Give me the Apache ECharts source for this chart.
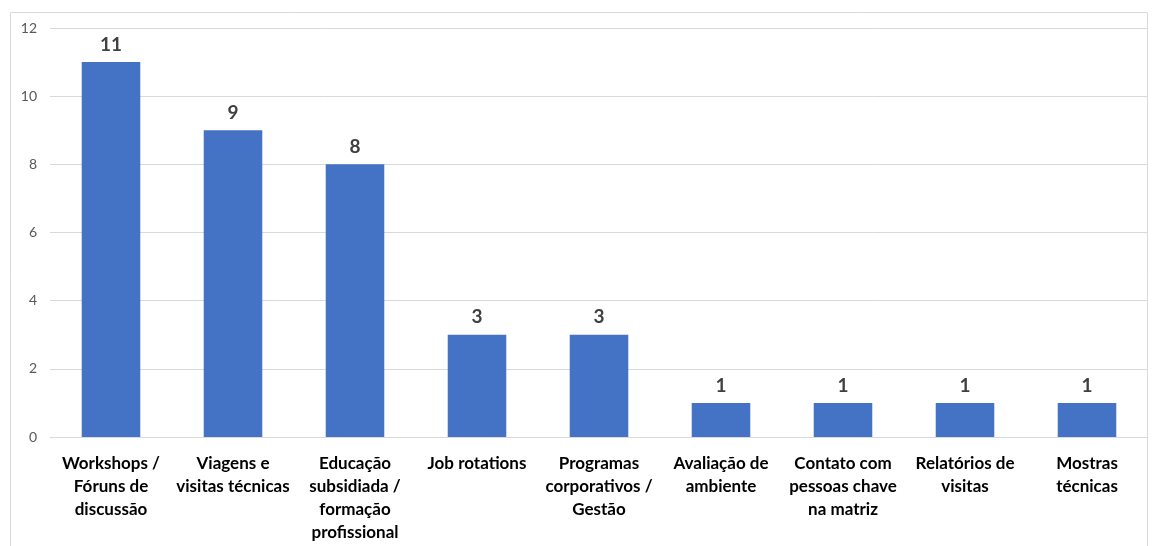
<!DOCTYPE html>
<html>
<head>
<meta charset="utf-8">
<script src="https://cdn.jsdelivr.net/npm/echarts@6/dist/echarts.min.js"></script>
<style>
  html, body { margin: 0; padding: 0; background: #fff; }
  #chart { width: 1157px; height: 546px; }
</style>
</head>
<body>
<div id="chart"></div>
<script>
// categorias (quebras de linha como no original)
const categories = [
    'Workshops /\nFóruns de\ndiscussão',
    'Viagens e\nvisitas técnicas',
    'Educação\nsubsidiada /\nformação\nprofissional',
    'Job rotations',
    'Programas\ncorporativos /\nGestão',
    'Avaliação de\nambiente',
    'Contato com\npessoas chave\nna matriz',
    'Relatórios de\nvisitas',
    'Mostras\ntécnicas'
];
const counts = [11, 9, 8, 3, 3, 1, 1, 1, 1];
const yTicks = [0, 2, 4, 6, 8, 10, 12];

const FONT = 'Lato, "Open Sans", sans-serif';

const myChart = echarts.init(document.getElementById('chart'));
myChart.setOption({
    animation: false,
    textStyle: { fontFamily: FONT },
    graphic: [
        {
            // moldura cinza clara do gráfico
            type: 'rect',
            shape: { x: 10.5, y: 12.5, width: 1137, height: 560 },
            style: { fill: 'none', stroke: '#d9d9d9', lineWidth: 1 },
            silent: true
        }
    ],
    grid: { left: 50, right: 9, top: 28, bottom: 109, containLabel: false },
    xAxis: {
        type: 'category',
        data: categories,
        axisTick: { show: false },
        axisLine: { lineStyle: { color: '#d9d9d9' } },
        axisLabel: {
            interval: 0,
            color: '#000',
            fontWeight: 'bold',
            fontSize: 17,
            lineHeight: 23,
            margin: 15,
            fontFamily: FONT
        }
    },
    yAxis: {
        type: 'value',
        min: yTicks[0],
        max: yTicks[yTicks.length - 1],
        interval: 2,
        axisLine: { show: false },
        axisTick: { show: false },
        splitLine: { lineStyle: { color: '#d9d9d9' } },
        axisLabel: { color: '#595959', fontSize: 14, margin: 13, fontFamily: FONT }
    },
    series: [
        {
            type: 'bar',
            data: counts,
            barWidth: '48%',
            itemStyle: { color: '#4472C4' },
            label: {
                show: true,
                position: 'top',
                distance: 8,
                color: '#404040',
                fontWeight: 'bold',
                fontSize: 19,
                fontFamily: FONT
            }
        }
    ]
});
</script>
</body>
</html>
